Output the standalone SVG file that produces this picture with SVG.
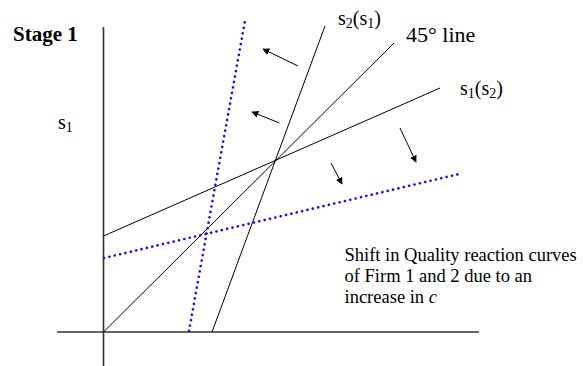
<svg xmlns="http://www.w3.org/2000/svg" width="583" height="366" viewBox="0 0 583 366">
<style>
.t{font-family:"Liberation Serif","Times New Roman",serif;fill:#000}
.ax{stroke:#333;stroke-width:1.6;fill:none}
.ln{stroke:#000;stroke-width:1;fill:none}
.dot{stroke:#1010ee;stroke-width:2.6;fill:none;stroke-dasharray:0.1 5.4;stroke-linecap:round}
.ar{stroke:#000;stroke-width:1;fill:none;marker-end:url(#ah)}
</style>
<defs>
<marker id="ah" viewBox="0 0 10 10" refX="9" refY="5" markerWidth="7" markerHeight="7" markerUnits="userSpaceOnUse" orient="auto">
<path d="M0,0 L10,5 L0,10 z" fill="#000"/>
</marker>
</defs>
<rect width="583" height="366" fill="#fff"/>
<g id="axes">
<line class="ax" x1="103.5" y1="27" x2="103.5" y2="366"/>
<line class="ax" x1="57" y1="332" x2="479" y2="332"/>
</g>
<g id="connectors">
<line id="s2s1" class="ln" x1="212" y1="332" x2="325" y2="26"/>
<line id="line45" class="ln" x1="103.5" y1="332" x2="394" y2="43"/>
<line id="s1s2" class="ln" x1="103.5" y1="236" x2="440" y2="88"/>
<line id="s2s1-shift" class="dot" x1="189" y1="331" x2="245.5" y2="18"/>
<line id="s1s2-shift" class="dot" x1="104" y1="258" x2="459" y2="174"/>
<line class="ar" x1="298" y1="66" x2="263" y2="49"/>
<line class="ar" x1="279.5" y1="123" x2="252" y2="112"/>
<line class="ar" x1="400" y1="128" x2="416" y2="162"/>
<line class="ar" x1="331" y1="163" x2="342" y2="184"/>
</g>
<g id="labels">
<text class="t" x="13" y="41" font-size="21" font-weight="bold">Stage 1</text>
<text class="t" x="58" y="129" font-size="20">s<tspan font-size="14" dy="3">1</tspan></text>
<text class="t" x="338" y="25" font-size="20">s<tspan font-size="14" dy="3">2</tspan><tspan dy="-3">(s</tspan><tspan font-size="14" dy="3">1</tspan><tspan dy="-3">)</tspan></text>
<text class="t" x="406" y="42" font-size="22">45° line</text>
<text class="t" x="460" y="95" font-size="20">s<tspan font-size="14" dy="3">1</tspan><tspan dy="-3">(s</tspan><tspan font-size="14" dy="3">2</tspan><tspan dy="-3">)</tspan></text>
<text class="t" font-size="18.5"><tspan x="344.5" y="261">Shift in Quality reaction curves</tspan><tspan x="344.5" y="282">of Firm 1 and 2 due to an</tspan><tspan x="344.5" y="303">increase in <tspan font-style="italic">c</tspan></tspan></text>
</g>
</svg>
